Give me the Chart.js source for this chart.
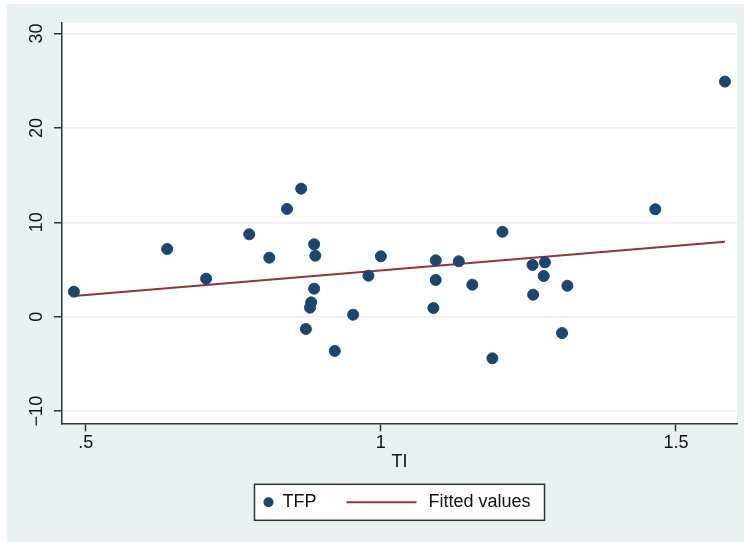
<!DOCTYPE html>
<html>
<head>
<meta charset="utf-8">
<script src="https://cdn.jsdelivr.net/npm/chart.js@4.4.0/dist/chart.umd.min.js"></script>
<style>
  html, body { margin: 0; padding: 0; background: #fff; }
  #wrap { position: absolute; left: 7px; top: 4px; width: 737px; height: 538px; }
</style>
</head>
<body>
<div id="wrap"><canvas id="chart" width="737" height="538"></canvas></div>
<script>
// TI (x) and TFP (y)
const tiValues = [0.480, 0.638, 0.704, 0.777, 0.811, 0.841, 0.865, 0.887, 0.889, 0.887, 0.882,
  0.880, 0.873, 0.922, 0.953, 0.979, 1.000, 1.093, 1.093, 1.089, 1.132, 1.155, 1.206, 1.189,
  1.257, 1.278, 1.276, 1.258, 1.316, 1.307, 1.465, 1.583];
const tfpValues = [2.65, 7.17, 4.03, 8.73, 6.25, 11.41, 13.56, 7.67, 6.46, 2.97, 1.52,
  0.96, -1.30, -3.63, 0.21, 4.34, 6.40, 5.97, 3.89, 0.92, 5.87, 3.39, 9.00, -4.41,
  5.48, 5.76, 4.31, 2.33, 3.28, -1.73, 11.38, 24.9];

// fitted line end points
const fittedX = [0.480, 1.583];
const fittedY = [2.19, 7.94];

const xTicks = [0.5, 1, 1.5];
const xTickLabels = ['.5', '1', '1.5'];
const yTicks = [-10, 0, 10, 20, 30];
const yTickLabels = ['\u221210', '0', '10', '20', '30'];
const seriesNames = ['TFP', 'Fitted values'];
const xTitle = 'TI';

const FONT = '"Liberation Sans", Arial, Helvetica, sans-serif';
const NAVY = '#1a476f';
const MAROON = '#90353b';
const INK = '#111';
const AXIS = '#333';

const backdrop = {
    id: 'backdrop',
    beforeDraw(chart) {
        const { ctx, chartArea: a } = chart;
        ctx.save();
        ctx.fillStyle = '#eaf1f3';
        ctx.fillRect(0, 0, chart.width, chart.height);
        ctx.fillStyle = '#fff';
        ctx.fillRect(a.left, a.top, a.right - a.left, a.bottom - a.top);
        ctx.restore();
    }
};

// Stata-like boxed legend under the x title
const boxLegend = {
    id: 'boxLegend',
    afterDraw(chart) {
        const { ctx, chartArea: a } = chart;
        const ds = chart.data.datasets;
        ctx.save();
        ctx.font = '18px ' + FONT;
        const w0 = ctx.measureText(ds[0].label).width;
        const w1 = ctx.measureText(ds[1].label).width;
        const width = 14 + 14 + w0 + 30 + 70 + 12 + w1 + 14;
        const height = 36;
        const left = (a.left + a.right) / 2 - width / 2;
        const top = 480.3;
        const mid = top + height / 2;

        ctx.fillStyle = '#fff';
        ctx.fillRect(left, top, width, height);
        ctx.strokeStyle = AXIS;
        ctx.lineWidth = 1.5;
        ctx.strokeRect(left, top, width, height);

        ctx.fillStyle = ds[0].backgroundColor;
        ctx.beginPath();
        ctx.arc(left + 14, mid, 5, 0, Math.PI * 2);
        ctx.fill();

        ctx.fillStyle = INK;
        ctx.textBaseline = 'middle';
        ctx.textAlign = 'left';
        let x = left + 28;
        ctx.fillText(ds[0].label, x, mid);
        x += w0 + 30;

        ctx.strokeStyle = ds[1].borderColor;
        ctx.lineWidth = 2;
        ctx.beginPath();
        ctx.moveTo(x, mid);
        ctx.lineTo(x + 70, mid);
        ctx.stroke();
        x += 82;

        ctx.fillStyle = INK;
        ctx.fillText(ds[1].label, x, mid);
        ctx.restore();
    }
};

new Chart(document.getElementById('chart'), {
    type: 'scatter',
    data: {
        datasets: [{
            label: seriesNames[0],
            data: tiValues.map((x, i) => ({ x: x, y: tfpValues[i] })),
            backgroundColor: NAVY,
            borderColor: NAVY,
            pointRadius: 5.5,
            pointHoverRadius: 5.5,
            order: 1
        }, {
            type: 'line',
            label: seriesNames[1],
            data: fittedX.map((x, i) => ({ x: x, y: fittedY[i] })),
            borderColor: MAROON,
            backgroundColor: MAROON,
            borderWidth: 2,
            pointRadius: 0,
            fill: false,
            order: 2
        }]
    },
    options: {
        responsive: false,
        animation: false,
        layout: { padding: { left: 0, right: 7, top: 18.7, bottom: 69.2 } },
        plugins: {
            legend: { display: false },
            tooltip: { enabled: false }
        },
        scales: {
            x: {
                type: 'linear',
                min: 0.4598,
                max: 1.6034,
                afterBuildTicks: (s) => { s.ticks = xTicks.map(v => ({ value: v })); },
                afterFit: (s) => { s.height = 49.5; },
                grid: { drawOnChartArea: false, drawTicks: true, tickLength: 8, tickColor: AXIS, tickWidth: 1.5 },
                border: { color: AXIS, width: 1.5 },
                ticks: {
                    padding: 1,
                    color: INK,
                    font: { family: FONT, size: 18 },
                    maxRotation: 0,
                    autoSkip: false,
                    callback: (v) => xTickLabels[xTicks.indexOf(v)]
                },
                title: {
                    display: true,
                    text: xTitle,
                    color: INK,
                    font: { family: FONT, size: 18 },
                    padding: { top: 0, bottom: 0 }
                }
            },
            y: {
                type: 'linear',
                min: -11.29,
                max: 31.14,
                afterBuildTicks: (s) => { s.ticks = yTicks.map(v => ({ value: v })); },
                afterFit: (s) => { s.width = 55; },
                grid: { color: '#e8f0f2', lineWidth: 1.5, drawTicks: true, tickLength: 8, tickColor: AXIS, tickWidth: 1.5 },
                border: { color: AXIS, width: 1.5 },
                ticks: {
                    padding: 2,
                    color: INK,
                    font: { family: FONT, size: 18 },
                    minRotation: 90,
                    maxRotation: 90,
                    crossAlign: 'center',
                    autoSkip: false,
                    callback: (v) => yTickLabels[yTicks.indexOf(v)]
                }
            }
        }
    },
    plugins: [backdrop, boxLegend]
});
</script>
</body>
</html>
